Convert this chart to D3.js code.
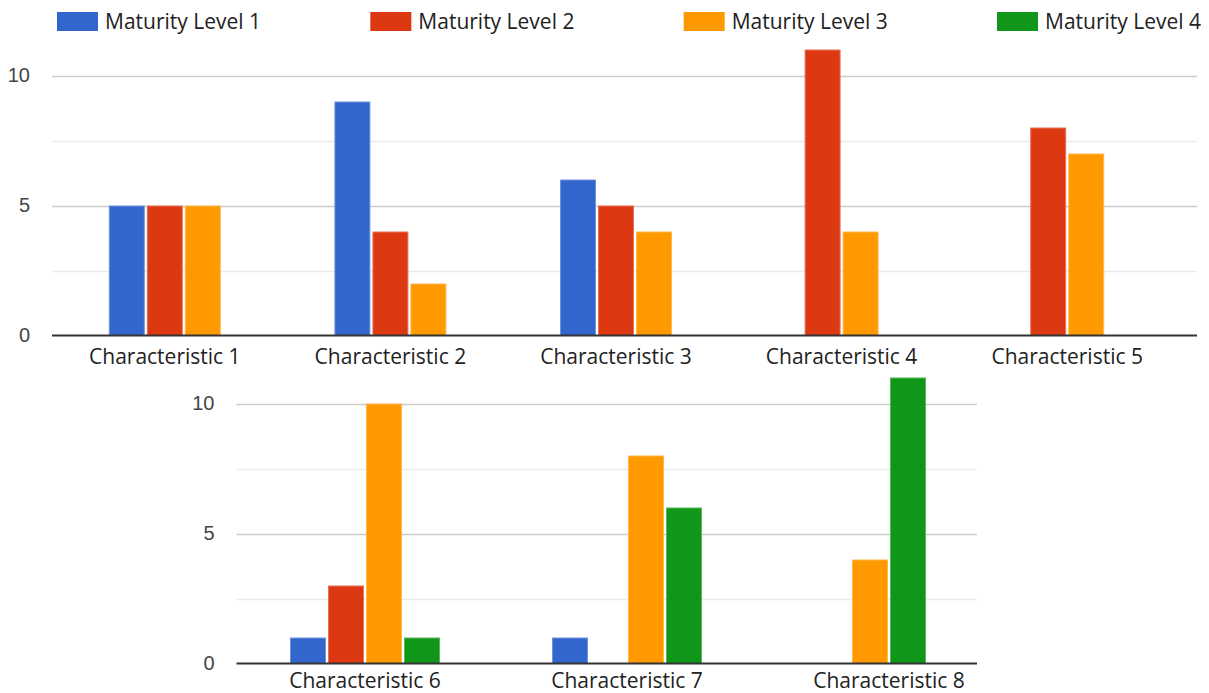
<!DOCTYPE html>
<html>
<head>
<meta charset="utf-8">
<script src="https://cdn.jsdelivr.net/npm/d3@7"></script>
<style>
  html, body { margin: 0; padding: 0; background: #fff; }
  svg { display: block; }
</style>
</head>
<body>
<svg id="chart" width="1209" height="693"></svg>
<script>
// Survey results: count of responses per maturity level for each characteristic
const categories = [
  "Characteristic 1", "Characteristic 2", "Characteristic 3", "Characteristic 4",
  "Characteristic 5", "Characteristic 6", "Characteristic 7", "Characteristic 8"
];
const seriesNames = ["Maturity Level 1", "Maturity Level 2", "Maturity Level 3", "Maturity Level 4"];
const level1 = [5, 9, 6, 0, 0, 1, 1, 0];
const level2 = [5, 4, 5, 11, 8, 3, 0, 0];
const level3 = [5, 2, 4, 4, 7, 10, 8, 4];
const level4 = [0, 0, 0, 0, 0, 1, 6, 11];
const yTickValues = [0, 5, 10];
const gridValues = [0, 2.5, 5, 7.5, 10];

const seriesValues = [level1, level2, level3, level4];
const colors = ["#3366cc", "#dc3912", "#ff9900", "#109618"];

const svg = d3.select("#chart");
const labelFont = "'Open Sans', sans-serif";
const tickFont = "'Liberation Sans', Arial, sans-serif";

// Legend across the top
const legend = svg.append("g");
const legendX = d3.scalePoint().domain(seriesNames).range([57, 997]);
seriesNames.forEach((name, i) => {
  const g = legend.append("g").attr("transform", `translate(${legendX(name)},0)`);
  g.append("rect").attr("x", 0).attr("y", 12).attr("width", 41).attr("height", 19)
    .attr("fill", colors[i]);
  g.append("text").attr("x", 48).attr("y", 29)
    .attr("font-family", labelFont).attr("font-size", 21).attr("fill", "#222")
    .text(name);
});

// Two stacked panels sharing the same value scale per unit
const panels = [
  { cats: categories.slice(0, 5), left: 52, right: 1197, base: 335.5, top10: 75.5,
    band: [52, 1180], labelY: 364 },
  { cats: categories.slice(5, 8), left: 236.5, right: 977, base: 663.5, top10: 403.5,
    band: [234, 1020], labelY: 688 }
];

const slot = 38, barGap = 2;

panels.forEach(p => {
  const g = svg.append("g");
  const y = d3.scaleLinear().domain([0, 10]).range([p.base, p.top10]);
  const x0 = d3.scaleBand().domain(p.cats).range(p.band).padding(0);

  // Gridlines
  g.append("g").selectAll("line").data(gridValues.filter(v => v > 0)).join("line")
    .attr("x1", p.left).attr("x2", p.right)
    .attr("y1", d => Math.round(y(d)) + 0.5).attr("y2", d => Math.round(y(d)) + 0.5)
    .attr("stroke", d => d % 5 === 0 ? "#cccccc" : "#ebebeb")
    .attr("stroke-width", 1.5);

  // Value axis labels
  const yAxis = g.append("g").attr("transform", `translate(${p.left},0)`)
    .call(d3.axisLeft(y).tickValues(yTickValues).tickSize(0).tickPadding(22).tickFormat(d3.format("d")));
  yAxis.select(".domain").remove();
  yAxis.selectAll("text").attr("font-family", tickFont).attr("font-size", 20).attr("fill", "#444");

  // Bars: slots span from the first to the last non-zero series in each group
  p.cats.forEach(cat => {
    const ci = categories.indexOf(cat);
    const nz = seriesValues.map((s, si) => s[ci] > 0 ? si : -1).filter(si => si >= 0);
    const first = d3.min(nz), last = d3.max(nz);
    const active = d3.range(first, last + 1);
    const n = active.length;
    const cx = x0(cat) + x0.bandwidth() / 2;
    const x1 = d3.scaleBand().domain(active)
      .range([cx - (n * slot - barGap) / 2, cx + (n * slot - barGap) / 2])
      .paddingInner(barGap / slot).paddingOuter(0);
    g.append("g").selectAll("rect")
      .data(active.filter(si => seriesValues[si][ci] > 0)).join("rect")
      .attr("x", si => x1(si) + 0.5).attr("width", x1.bandwidth() - 1)
      .attr("y", si => y(seriesValues[si][ci]) + 0.5)
      .attr("height", si => y(0) - y(seriesValues[si][ci]) - 0.5)
      .attr("fill", si => colors[si])
      .attr("stroke", si => d3.interpolateRgb(colors[si], "#fff")(0.3))
      .attr("stroke-width", 1);
  });

  // Baseline
  g.append("line").attr("x1", p.left).attr("x2", p.right)
    .attr("y1", p.base).attr("y2", p.base)
    .attr("stroke", "#333").attr("stroke-width", 2);

  // Category labels
  const xAxis = g.append("g").attr("transform", `translate(0,${p.base})`)
    .call(d3.axisBottom(x0).tickSize(0).tickPadding(0));
  xAxis.select(".domain").remove();
  xAxis.selectAll("text")
    .attr("dy", null).attr("y", p.labelY - p.base)
    .attr("font-family", labelFont).attr("font-size", 21).attr("fill", "#222");
});
</script>
</body>
</html>
